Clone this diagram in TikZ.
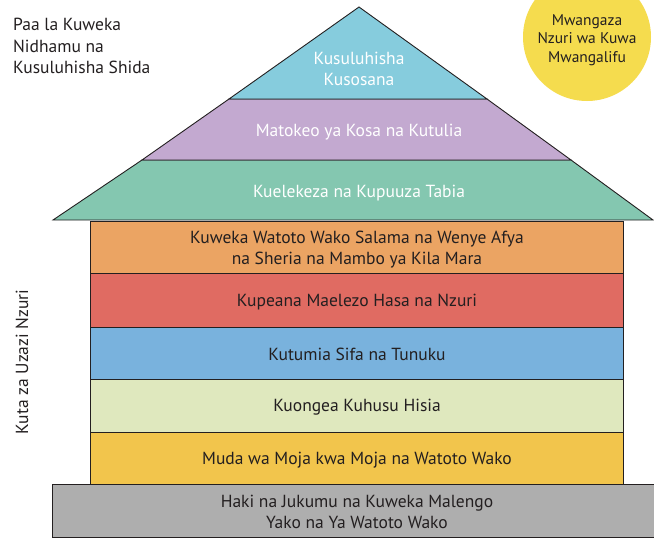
\documentclass[tikz,border=0pt]{standalone}
\usepackage{fontspec}
\setmainfont{PT Sans}
\definecolor{ink}{HTML}{231F20}
\definecolor{cTop}{HTML}{86CCDD}
\definecolor{cPurple}{HTML}{C3A9D0}
\definecolor{cTeal}{HTML}{84C7B0}
\definecolor{cOrange}{HTML}{EBA463}
\definecolor{cRed}{HTML}{E06B62}
\definecolor{cBlue}{HTML}{79B2DD}
\definecolor{cGreen}{HTML}{DFE8BE}
\definecolor{cYellow}{HTML}{F2C54C}
\definecolor{cGray}{HTML}{AEAEAE}
\definecolor{cSun}{HTML}{F5DC4E}
\begin{document}
\begin{tikzpicture}[x=1pt,y=-1pt,
  band/.style={draw=ink,line width=0.9pt,line join=miter},
  rooftxt/.style={text=white,font=\fontsize{17.5}{21}\selectfont,align=center,inner sep=0pt},
  walltxt/.style={text=ink,font=\fontsize{17.5}{21}\selectfont,align=center,inner sep=0pt},
  lbl/.style={text=ink,font=\fontsize{17.5}{21.5}\selectfont,inner sep=0pt}]
\useasboundingbox (0,0) rectangle (654,538);
\clip (0,0) rectangle (654,538);
% sun
\fill[cSun] (587,37) circle (64);
\node[lbl,align=center,font=\fontsize{15.5}{18.5}\selectfont] (sun) at (587,40) {Mwangaza\\Nzuri wa Kuwa\\Mwangalifu};
% roof
\path[band,fill=cTeal] (53,220) -- (142,160) -- (571,160) -- (653,220) -- cycle;
\path[band,fill=cPurple] (142,160) -- (229,99) -- (487,99) -- (571,160) -- cycle;
\path[band,fill=cTop] (229,99) -- (359,7) -- (487,99) -- cycle;
% walls
\path[band,fill=cOrange] (90,221) rectangle (623,273);
\path[band,fill=cRed] (90,273) rectangle (623,327);
\path[band,fill=cBlue] (90,327) rectangle (623,379);
\path[band,fill=cGreen] (90,379) rectangle (623,432);
\path[band,fill=cYellow] (90,432) rectangle (623,484);
% base
\path[band,fill=cGray] (52,484) rectangle (660,537);
% texts
\node[rooftxt] (r1) at (359,69) {Kusuluhisha\\Kusosana};
\node[rooftxt] (r2) at (359,132) {Matokeo ya Kosa na Kutulia};
\node[rooftxt] (r3) at (359,193) {Kuelekeza na Kupuuza Tabia};
\node[walltxt] (w1) at (357,250) {Kuweka Watoto Wako Salama na Wenye Afya\\na Sheria na Mambo ya Kila Mara};
\node[walltxt] (w2) at (357,302) {Kupeana Maelezo Hasa na Nzuri};
\node[walltxt] (w3) at (357,354) {Kutumia Sifa na Tunuku};
\node[walltxt] (w4) at (357,407) {Kuongea Kuhusu Hisia};
\node[walltxt] (w5) at (357,460) {Muda wa Moja kwa Moja na Watoto Wako};
\node[walltxt] (b1) at (357,512) {Haki na Jukumu na Kuweka Malengo\\Yako na Ya Watoto Wako};
\node[lbl,align=left,anchor=north west] (roofl) at (13,18) {Paa la Kuweka\\Nidhamu na\\Kusuluhisha Shida};
\node[lbl,rotate=90] (walll) at (22,362) {Kuta za Uzazi Nzuri};
\end{tikzpicture}
\end{document}
